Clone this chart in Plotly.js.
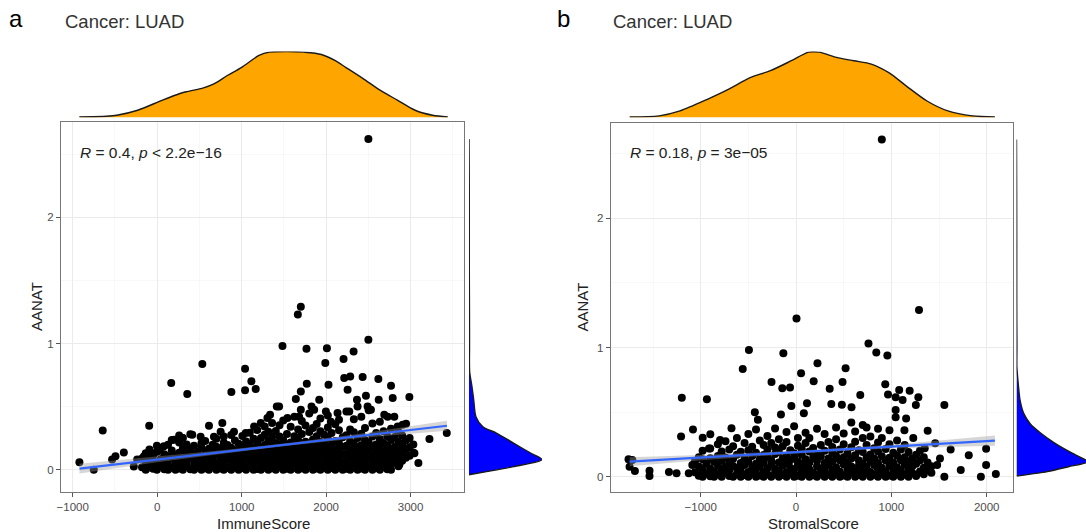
<!DOCTYPE html>
<html><head><meta charset="utf-8">
<script src="https://cdn.plot.ly/plotly-3.0.1.min.js"></script>
<style>body{margin:0;background:#fff}#chart{width:1086px;height:532px}</style>
</head><body><div id="chart"></div>
<script>
// ---------- Panel a data (ImmuneScore vs AANAT) ----------
const immuneOutliers = [
 [2500,2.62],[1700,1.29],[1665,1.23],[2500,1.03],[1483,0.98],[1767,0.958],[2009,0.963],[2325,0.937],
 [1990,0.845],[2206,0.876],[534,0.837],[1040,0.80],[1115,0.70],[1166,0.64],[1040,0.63],[878,0.615],
 [166,0.686],[356,0.60],[613,0.348],[771,0.37],[-95,0.348],[-645,0.31],[-921,0.058],[-751,0.0],
 [-395,0.137],[-494,0.106],[-534,0.08],[3428,0.29],[3223,0.243],[3092,0.053],[2985,0.575],[2768,0.665],
 [2618,0.718],[2432,0.734],[2285,0.739],[2214,0.726],[2028,0.673],[1771,0.681],[1700,0.62],[1641,0.56],
 [1918,0.554],[1827,0.50],[1443,0.50],[1336,0.435],[2471,0.586],[2365,0.554],[2491,0.50],[2622,0.554],
 [2788,0.567],[2728,0.42],[2254,0.633],[2946,0.364],[2847,0.343],[2906,0.17],[3045,0.13],[2867,0.04],
 [1416,0.50],[1542,0.41],[1680,0.42],[1700,0.475],[1858,0.475],[1997,0.46],[2056,0.38],[2135,0.45],
 [2274,0.46],[2372,0.50],[2530,0.475],[2688,0.435],[2807,0.42],[2906,0.356],[1226,0.37],[1305,0.41],
 [1147,0.343],[1048,0.29],[909,0.30],[751,0.30],[672,0.26],[514,0.26],[415,0.277],[297,0.25],
 [198,0.238],[79,0.185],[0,0.145],[-158,0.105],[-237,0.08],[-277,0.026],[-119,0.013]
];
const immuneColumns = [
 [-180,[0.02,0.088]],[-136,[0.0,0.061,0.13]],[-92,[0.035,0.098,0.16]],[-48,[0.008,0.072,0.115]],
 [-4,[0.0,0.05,0.142,0.19]],[40,[0.025,0.083,0.171]],[84,[0.004,0.066,0.122]],[128,[0.0,0.04,0.105,0.198]],
 [172,[0.018,0.09,0.152,0.236]],[216,[0.0,0.055,0.113]],[260,[0.01,0.077,0.135,0.215,0.27]],
 [304,[0.0,0.038,0.102,0.17,0.25]],[348,[0.028,0.064,0.128,0.2]],[392,[0.003,0.09,0.158,0.28]],
 [436,[0.0,0.045,0.112,0.19]],[480,[0.02,0.075,0.14]],[524,[0.0,0.053,0.098,0.175,0.212]],
 [568,[0.012,0.067,0.13,0.228]],[612,[0.0,0.036,0.104,0.165]],[656,[0.024,0.082,0.146,0.198]],
 [700,[0.0,0.05,0.118,0.182,0.245]],[744,[0.009,0.071,0.127,0.168]],[788,[0.0,0.032,0.094,0.155,0.214,0.262]],
 [832,[0.016,0.078,0.136,0.196]],[876,[0.0,0.055,0.115,0.173,0.275]],[920,[0.027,0.088,0.149,0.232]],
 [964,[0.0,0.046,0.103,0.164,0.205]],[1008,[0.013,0.072,0.131,0.186,0.266]],[1052,[0.0,0.035,0.097,0.158,0.224]],
 [1096,[0.021,0.083,0.142,0.199,0.292]],[1140,[0.0,0.054,0.112,0.171,0.245]],[1184,[0.006,0.068,0.127,0.185,0.218,0.315]],
 [1228,[0.0,0.039,0.098,0.156,0.25]],[1272,[0.018,0.079,0.138,0.195,0.277,0.342]],[1316,[0.0,0.051,0.108,0.167,0.229,0.3]],
 [1360,[0.011,0.07,0.124,0.182,0.258,0.37]],[1404,[0.0,0.036,0.094,0.15,0.211,0.306]],[1448,[0.023,0.083,0.139,0.198,0.262,0.352]],
 [1492,[0.0,0.057,0.113,0.172,0.234,0.39]],[1536,[0.008,0.066,0.125,0.187,0.283]],[1580,[0.0,0.03,0.092,0.151,0.215,0.34]],
 [1624,[0.017,0.077,0.137,0.199,0.265,0.42]],[1668,[0.0,0.049,0.108,0.168,0.236,0.318]],[1712,[0.012,0.071,0.13,0.19,0.282,0.386]],
 [1756,[0.0,0.038,0.097,0.158,0.222,0.35]],[1800,[0.025,0.086,0.146,0.206,0.298,0.445]],[1844,[0.0,0.056,0.117,0.176,0.24,0.33]],
 [1888,[0.009,0.068,0.129,0.19,0.265,0.362]],[1932,[0.0,0.033,0.094,0.155,0.219,0.305,0.405]],[1976,[0.02,0.08,0.141,0.203,0.276]],
 [2020,[0.0,0.052,0.112,0.173,0.244,0.335,0.43]],[2064,[0.014,0.072,0.133,0.195,0.29]],[2108,[0.0,0.04,0.101,0.162,0.228,0.36]],
 [2152,[0.023,0.085,0.145,0.207,0.312,0.395]],[2196,[0.0,0.058,0.118,0.18,0.256]],[2240,[0.007,0.066,0.127,0.19,0.272,0.46]],
 [2284,[0.0,0.035,0.096,0.158,0.225,0.318]],[2328,[0.019,0.081,0.142,0.205,0.296,0.4]],[2372,[0.0,0.053,0.114,0.176,0.25]],
 [2416,[0.01,0.07,0.131,0.193,0.285,0.42]],[2460,[0.0,0.043,0.104,0.165,0.236,0.33]],[2504,[0.026,0.088,0.15,0.214,0.47]],
 [2548,[0.0,0.06,0.12,0.183,0.262,0.365]],[2592,[0.013,0.074,0.136,0.199,0.29]],[2636,[0.0,0.045,0.107,0.169,0.242,0.38]],
 [2680,[0.022,0.084,0.146,0.212,0.305]],[2724,[0.004,0.063,0.125,0.188,0.265]],[2768,[0.0,0.038,0.099,0.162,0.236,0.325]],
 [2812,[0.056,0.118,0.181,0.258]],[2856,[0.028,0.09,0.152,0.22,0.3]],[2900,[0.07,0.134,0.198,0.27]],
 [2944,[0.095,0.16,0.232]],[2988,[0.11,0.178,0.25]],[3032,[0.135,0.2]]
];
const immuneLineX = [-920, 3430];
const immuneLineY = [0.008, 0.348];
const immuneBandX = [-920, 0, 800, 1600, 2400, 3430];
const immuneBandUpper = [0.046, 0.102, 0.155, 0.216, 0.284, 0.388];
const immuneBandLower = [-0.030, 0.058, 0.129, 0.194, 0.250, 0.308];
const immuneDensX = [-922,-600,-478,-231,56,261,343,548,671,835,1000,1205,1329,1534,1739,1944,2109,2231,2437,2643,2848,3053,3259,3440];
const immuneDensY = [0.01,0.02,0.035,0.11,0.26,0.36,0.39,0.45,0.51,0.64,0.76,0.94,0.99,1.0,0.99,0.955,0.86,0.76,0.59,0.41,0.26,0.11,0.035,0.01];
const aanatDensYA = [2.62,2.3,2.0,1.6,1.3,1.1,0.95,0.85,0.77,0.66,0.55,0.42,0.34,0.29,0.21,0.13,0.08,0.024,-0.016,-0.04];
const aanatDensWA = [0,0.003,0.004,0.004,0.006,0.007,0.007,0.006,0.01,0.04,0.065,0.095,0.19,0.375,0.61,0.85,1.0,0.61,0.24,0];

// ---------- Panel b data (StromalScore vs AANAT) ----------
const stromalOutliers = [
 [900,2.61],[5,1.225],[1290,1.29],[760,1.03],[842,0.962],[958,0.937],[-494,0.98],[-133,0.955],
 [-559,0.833],[53,0.80],[225,0.877],[520,0.84],[-257,0.733],[-144,0.684],[-63,0.69],[185,0.738],
 [488,0.733],[353,0.68],[674,0.632],[936,0.715],[965,0.637],[1082,0.67],[1192,0.666],[1283,0.614],
 [1045,0.614],[1118,0.593],[1257,0.555],[1556,0.555],[-1198,0.611],[-935,0.599],[-49,0.547],[115,0.568],
 [370,0.562],[481,0.557],[582,0.537],[-158,0.482],[82,0.49],[-432,0.498],[-400,0.44],[1045,0.516],
 [1155,0.45],[1045,0.46],[1381,0.356],[1137,0.36],[1622,0.21],[1812,0.165],[1994,0.217],[1994,0.09],
 [1939,0.0],[2096,0.02],[1728,0.052],[1556,0.0],[1480,0.09],[1460,0.258],[-1206,0.31],[-1081,0.366],
 [-979,0.302],[-899,0.328],[-913,0.219],[-797,0.284],[-677,0.374],[-1757,0.134],[-1717,0.129],[-1746,0.077],
 [-1690,0.044],[-1537,0.046],[-1537,0.005],[-1333,0.036],[-1253,0.026],[-1125,0.026],[-1088,0.09],
 [-997,0.065],[-880,0.005],[1420,0.03],[1510,0.14],[1350,0.22],[1230,0.3]
];
const stromalColumns = [
 [-1060,[0.035,0.12]],[-1020,[0.008,0.078,0.15]],[-980,[0.0,0.052,0.135,0.2]],[-940,[0.025,0.1]],
 [-900,[0.004,0.064,0.142,0.218]],[-860,[0.0,0.041,0.115]],[-820,[0.018,0.088,0.16,0.25]],[-780,[0.0,0.058,0.125,0.195]],
 [-740,[0.03,0.076,0.148,0.275]],[-700,[0.006,0.05,0.112,0.21]],[-660,[0.0,0.083,0.138,0.235]],[-620,[0.022,0.065,0.17,0.3]],
 [-580,[0.0,0.045,0.105,0.192]],[-540,[0.012,0.09,0.145,0.26]],[-500,[0.0,0.036,0.118,0.205,0.33]],[-460,[0.027,0.074,0.16,0.232]],
 [-420,[0.0,0.055,0.1,0.185,0.365]],[-380,[0.009,0.08,0.135,0.28]],[-340,[0.0,0.04,0.112,0.168,0.245]],[-300,[0.019,0.066,0.152,0.21,0.315]],
 [-260,[0.0,0.094,0.128,0.26]],[-220,[0.031,0.06,0.175,0.225,0.372]],[-180,[0.0,0.048,0.11,0.19,0.29]],[-140,[0.012,0.085,0.14,0.235]],
 [-100,[0.0,0.034,0.102,0.162,0.268,0.345]],[-60,[0.024,0.07,0.128,0.205]],[-20,[0.0,0.056,0.15,0.182,0.39]],[20,[0.007,0.088,0.118,0.24,0.3]],
 [60,[0.0,0.042,0.096,0.17,0.215]],[100,[0.02,0.075,0.135,0.26,0.34]],[140,[0.0,0.058,0.108,0.195,0.3]],[180,[0.011,0.033,0.148,0.222]],
 [220,[0.0,0.08,0.124,0.176,0.37]],[260,[0.028,0.062,0.158,0.245]],[300,[0.0,0.045,0.105,0.2,0.33]],[340,[0.015,0.09,0.14,0.268]],
 [380,[0.0,0.052,0.118,0.185,0.23]],[420,[0.023,0.072,0.16,0.29,0.38]],[460,[0.0,0.038,0.128,0.21]],[500,[0.01,0.095,0.15,0.25,0.335]],
 [540,[0.0,0.055,0.112,0.18]],[580,[0.03,0.078,0.14,0.228,0.42]],[620,[0.0,0.046,0.165,0.27,0.35]],[660,[0.012,0.088,0.125,0.205]],
 [700,[0.0,0.06,0.1,0.19,0.3,0.4]],[740,[0.026,0.075,0.148,0.245,0.38]],[780,[0.0,0.036,0.12,0.172,0.31]],[820,[0.014,0.09,0.14,0.22]],
 [860,[0.0,0.055,0.105,0.195,0.265,0.37]],[900,[0.021,0.07,0.158,0.3]],[940,[0.0,0.04,0.125,0.215]],[980,[0.009,0.085,0.146,0.25,0.36]],
 [1020,[0.0,0.058,0.11,0.185]],[1060,[0.03,0.072,0.162,0.28]],[1100,[0.0,0.046,0.128,0.21]],[1140,[0.016,0.092,0.15,0.245]],
 [1180,[0.0,0.06,0.115,0.19]],[1220,[0.028,0.08,0.14]],[1260,[0.005,0.1,0.17]],[1300,[0.04,0.125,0.2]],
 [1340,[0.018,0.07,0.15]],[1380,[0.052,0.11]],[1420,[0.08]]
];
const stromalLineX = [-1745, 2086];
const stromalLineY = [0.116, 0.279];
const stromalBandX = [-1745, -1000, 0, 500, 1000, 2086];
const stromalBandUpper = [0.151, 0.168, 0.201, 0.222, 0.248, 0.319];
const stromalBandLower = [0.081, 0.128, 0.179, 0.200, 0.218, 0.239];
const stromalDensX = [-1745,-1435,-1217,-924,-705,-487,-268,-49,133,243,425,607,790,973,1155,1374,1593,1849,2086];
const stromalDensY = [0.01,0.025,0.10,0.28,0.43,0.60,0.71,0.86,0.99,0.99,0.91,0.86,0.81,0.68,0.48,0.25,0.10,0.025,0.01];
const aanatDensYB = [2.61,2.2,1.8,1.4,1.2,1.0,0.85,0.72,0.59,0.49,0.41,0.34,0.26,0.18,0.13,0.116,0.077,0.039,0.005];
const aanatDensWB = [0,0.002,0.003,0.003,0.004,0.006,0.005,0.024,0.05,0.10,0.19,0.33,0.53,0.78,0.96,1.0,0.72,0.43,0];

const panelLetters = ['a', 'b'];
const panelTitles = ['Cancer: LUAD', 'Cancer: LUAD'];
const statTexts = ['<i>R</i> = 0.4, <i>p</i> &lt; 2.2e\u221216', '<i>R</i> = 0.18, <i>p</i> = 3e\u221205'];
const xTitles = ['ImmuneScore', 'StromalScore'];
const yTitle = 'AANAT';

// ---------- helpers ----------
const W = 1086, H = 532;
const fx = p => p / W;
const fy = p => 1 - p / H;
function flatten(outliers, columns) {
  const xs = [], ys = [];
  columns.forEach(([x, vals]) => vals.forEach(v => { xs.push(x); ys.push(v); }));
  outliers.forEach(([x, y]) => { xs.push(x); ys.push(y); });
  return [xs, ys];
}
const [ax, ay] = flatten(immuneOutliers, immuneColumns);
const [bx, by] = flatten(stromalOutliers, stromalColumns);

const FONT = 'Liberation Sans, Arial, Helvetica, sans-serif';
const pointStyle = {color: '#000000', size: 8, line: {width: 0}};
const bandColor = 'rgba(153,153,153,0.4)';
const lineStyle = {color: '#3366FF', width: 2.2};
const densLine = {color: '#1a1a1a', width: 1.4, shape: 'spline', smoothing: 0.8};

const traces = [
  {x: ax, y: ay, type: 'scatter', mode: 'markers', marker: pointStyle, xaxis: 'x', yaxis: 'y'},
  {x: immuneBandX.concat(immuneBandX.slice().reverse()), y: immuneBandUpper.concat(immuneBandLower.slice().reverse()),
   type: 'scatter', mode: 'lines', fill: 'toself', fillcolor: bandColor, line: {width: 0}, xaxis: 'x', yaxis: 'y'},
  {x: immuneLineX, y: immuneLineY, type: 'scatter', mode: 'lines', line: lineStyle, xaxis: 'x', yaxis: 'y'},
  {x: immuneDensX, y: immuneDensY, type: 'scatter', mode: 'lines', fill: 'tozeroy', fillcolor: '#FFA500', line: densLine, xaxis: 'x3', yaxis: 'y3'},
  {x: aanatDensWA, y: aanatDensYA, type: 'scatter', mode: 'lines', fill: 'tozerox', fillcolor: '#0000FF', line: densLine, xaxis: 'x4', yaxis: 'y4'},

  {x: bx, y: by, type: 'scatter', mode: 'markers', marker: pointStyle, xaxis: 'x2', yaxis: 'y2'},
  {x: stromalBandX.concat(stromalBandX.slice().reverse()), y: stromalBandUpper.concat(stromalBandLower.slice().reverse()),
   type: 'scatter', mode: 'lines', fill: 'toself', fillcolor: bandColor, line: {width: 0}, xaxis: 'x2', yaxis: 'y2'},
  {x: stromalLineX, y: stromalLineY, type: 'scatter', mode: 'lines', line: lineStyle, xaxis: 'x2', yaxis: 'y2'},
  {x: stromalDensX, y: stromalDensY, type: 'scatter', mode: 'lines', fill: 'tozeroy', fillcolor: '#FFA500', line: densLine, xaxis: 'x5', yaxis: 'y5'},
  {x: aanatDensWB, y: aanatDensYB, type: 'scatter', mode: 'lines', fill: 'tozerox', fillcolor: '#0000FF', line: densLine, xaxis: 'x6', yaxis: 'y6'}
];

function mainAxis(domain, range, dtick, minor, anchor) {
  return {
    domain: domain, range: range, anchor: anchor, dtick: dtick, tick0: 0,
    ticks: 'outside', ticklen: 4, tickwidth: 1, tickcolor: '#555',
    showline: true, mirror: true, linecolor: '#777', linewidth: 1,
    showgrid: true, gridcolor: '#EBEBEB', gridwidth: 1,
    minor: {dtick: minor, tick0: 0, showgrid: true, gridcolor: '#F3F3F3', gridwidth: 0.6, ticks: ''},
    zeroline: false, tickfont: {family: FONT, size: 11.5, color: '#4D4D4D'}, fixedrange: true
  };
}
function hiddenAxis(domain, range, anchor) {
  return {domain: domain, range: range, anchor: anchor, visible: false, showgrid: false, zeroline: false, fixedrange: true};
}

const xDomA = [fx(61), fx(464)], yDomA = [fy(492), fy(122)];
const xDomB = [fx(610.7), fx(1013)], yDomB = [fy(492.3), fy(122.7)];
const xRangeA = [-1139, 3632], yRangeA = [-0.177, 2.755];
const xRangeB = [-1944, 2276], yRangeB = [-0.121, 2.74];

const ann = (text, x, y, size, color, extra) => Object.assign({
  text: text, xref: 'paper', yref: 'paper', x: fx(x), y: fy(y), showarrow: false,
  xanchor: 'left', yanchor: 'middle', font: {family: FONT, size: size, color: color}
}, extra || {});

const layout = {
  width: W, height: H, margin: {l: 0, r: 0, t: 0, b: 0},
  paper_bgcolor: '#ffffff', plot_bgcolor: '#ffffff', showlegend: false, hovermode: false,
  xaxis: mainAxis(xDomA, xRangeA, 1000, 500, 'y'),
  yaxis: mainAxis(yDomA, yRangeA, 1, 0.5, 'x'),
  xaxis2: mainAxis(xDomB, xRangeB, 1000, 500, 'y2'),
  yaxis2: mainAxis(yDomB, yRangeB, 1, 0.5, 'x2'),
  xaxis3: hiddenAxis(xDomA, xRangeA, 'y3'),
  yaxis3: hiddenAxis([fy(117.5), fy(51.5)], [0, 1], 'x3'),
  xaxis4: hiddenAxis([fx(469), fx(542)], [0, 1], 'y4'),
  yaxis4: hiddenAxis(yDomA, yRangeA, 'x4'),
  xaxis5: hiddenAxis(xDomB, xRangeB, 'y5'),
  yaxis5: hiddenAxis([fy(117.5), fy(51.5)], [0, 1], 'x5'),
  xaxis6: hiddenAxis([fx(1016.5), 1], [0, (W - 1016.5) / 72], 'y6'),
  yaxis6: hiddenAxis(yDomB, yRangeB, 'x6'),
  annotations: [
    ann(panelLetters[0], 16, 19, 24, '#000', {xanchor: 'center'}),
    ann(panelLetters[1], 563, 19, 24, '#000', {xanchor: 'center'}),
    ann(panelTitles[0], 63, 21, 18.5, '#333'),
    ann(panelTitles[1], 611, 21, 18.5, '#333'),
    ann(statTexts[0], 78, 152, 15.5, '#222'),
    ann(statTexts[1], 628, 152, 15.5, '#222'),
    ann(xTitles[0], 263, 523, 15, '#222', {xanchor: 'center'}),
    ann(xTitles[1], 813, 523, 15, '#222', {xanchor: 'center'}),
    ann(yTitle, 36, 307, 15, '#222', {xanchor: 'center', textangle: -90}),
    ann(yTitle, 582, 307.5, 15, '#222', {xanchor: 'center', textangle: -90})
  ]
};

Plotly.newPlot('chart', traces, layout, {staticPlot: true, displayModeBar: false});
</script></body></html>
